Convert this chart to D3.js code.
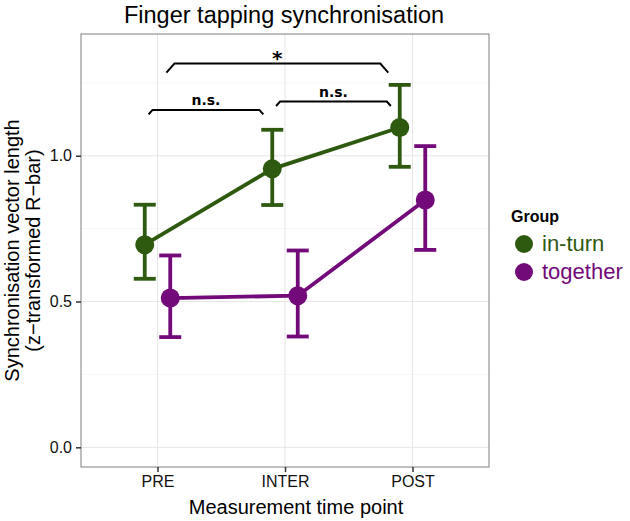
<!DOCTYPE html>
<html>
<head>
<meta charset="utf-8">
<script src="https://cdn.jsdelivr.net/npm/d3@7"></script>
<style>
  body { margin: 0; background: #fff; }
  text { font-family: "Liberation Sans", Arial, Helvetica, sans-serif; }
</style>
</head>
<body>
<div class="chart-container"></div>
<script>
var timepoints = ["PRE", "INTER", "POST"];
var groups = ["in-turn", "together"];
var groupColors = ["#2e5a10", "#720a7a"];

// means and error-bar limits, one entry per time point
var inTurnMean = [0.695, 0.955, 1.097];
var inTurnLow  = [0.578, 0.831, 0.962];
var inTurnHigh = [0.832, 1.089, 1.243];

var togetherMean = [0.512, 0.520, 0.848];
var togetherLow  = [0.378, 0.380, 0.677];
var togetherHigh = [0.658, 0.675, 1.033];

var yTicks = [0, 0.5, 1.0];
var yMinorTicks = [0.25, 0.75, 1.25];

// significance brackets: from/to position in category units, height, label
var bracketFrom  = [-0.07, 0.93, 0.07];
var bracketTo    = [0.83, 1.83, 1.81];
var bracketY     = [1.157, 1.186, 1.316];
var bracketLabel = ["n.s.", "n.s.", "*"];

draw();

function draw() {
    var container = d3.select('.chart-container');
    var drawWidth = 630, drawHeight = 521;

    var margin = { top: 34, right: 141, bottom: 54, left: 81 };
    var width = drawWidth - margin.left - margin.right;
    var height = drawHeight - margin.top - margin.bottom;

    var svg = container.append("svg")
        .attr("width", drawWidth)
        .attr("height", drawHeight);

    var g = svg.append("g")
        .attr("transform", "translate(" + margin.left + "," + margin.top + ")");

    var x = d3.scalePoint().domain(timepoints).range([0, width]).padding(0.6);
    var step = x.step();
    var y = d3.scaleLinear().domain([-0.0675, 1.4175]).range([height, 0]);
    var dodge = [-0.1 * step, 0.1 * step];

    // grid
    g.selectAll(".minor").data(yMinorTicks).enter().append("line")
        .attr("x1", 0).attr("x2", width)
        .attr("y1", d => y(d)).attr("y2", d => y(d))
        .attr("stroke", "#f4f4f4").attr("stroke-width", 0.8);
    g.selectAll(".major").data(yTicks).enter().append("line")
        .attr("x1", 0).attr("x2", width)
        .attr("y1", d => y(d)).attr("y2", d => y(d))
        .attr("stroke", "#e6e6e6").attr("stroke-width", 1);
    g.selectAll(".vgrid").data(timepoints).enter().append("line")
        .attr("x1", d => x(d)).attr("x2", d => x(d))
        .attr("y1", 0).attr("y2", height)
        .attr("stroke", "#e6e6e6").attr("stroke-width", 1);

    // series
    var series = [
        { name: groups[0], color: groupColors[0], mean: inTurnMean, low: inTurnLow, high: inTurnHigh, dx: dodge[0] },
        { name: groups[1], color: groupColors[1], mean: togetherMean, low: togetherLow, high: togetherHigh, dx: dodge[1] }
    ];

    var line = d3.line()
        .x(d => d.x)
        .y(d => y(d.v));

    series.forEach(function (s) {
        var pts = timepoints.map((t, i) => ({ x: x(t) + s.dx, v: s.mean[i], lo: s.low[i], hi: s.high[i] }));
        var sg = g.append("g");
        sg.append("path").datum(pts)
            .attr("d", line)
            .attr("fill", "none")
            .attr("stroke", s.color)
            .attr("stroke-width", 3.8);
        sg.selectAll(".eb").data(pts).enter().append("line")
            .attr("x1", d => d.x).attr("x2", d => d.x)
            .attr("y1", d => y(d.lo)).attr("y2", d => y(d.hi))
            .attr("stroke", s.color).attr("stroke-width", 3.8);
        sg.selectAll(".capHi").data(pts).enter().append("line")
            .attr("x1", d => d.x - 11).attr("x2", d => d.x + 11)
            .attr("y1", d => y(d.hi)).attr("y2", d => y(d.hi))
            .attr("stroke", s.color).attr("stroke-width", 3.8);
        sg.selectAll(".capLo").data(pts).enter().append("line")
            .attr("x1", d => d.x - 11).attr("x2", d => d.x + 11)
            .attr("y1", d => y(d.lo)).attr("y2", d => y(d.lo))
            .attr("stroke", s.color).attr("stroke-width", 3.8);
        sg.selectAll("circle").data(pts).enter().append("circle")
            .attr("cx", d => d.x).attr("cy", d => y(d.v))
            .attr("r", 9.5)
            .attr("fill", s.color);
    });

    // significance brackets
    var xc = function (u) { return x(timepoints[0]) + u * step; };
    bracketLabel.forEach(function (lab, i) {
        var big = lab === "*";
        var x0 = xc(bracketFrom[i]), x1 = xc(bracketTo[i]), yy = y(bracketY[i]);
        var bg = g.append("g");
        bg.append("path")
            .attr("d", "M" + x0 + "," + (yy + (big ? 9 : 4.5)) +
                "L" + (x0 + (big ? 8 : 4)) + "," + yy +
                "L" + (x1 - (big ? 8 : 4)) + "," + yy +
                "L" + x1 + "," + (yy + (big ? 9 : 4.5)))
            .attr("fill", "none").attr("stroke", "#000").attr("stroke-width", 2);
        bg.append("text")
            .attr("x", (x0 + x1) / 2)
            .attr("y", yy - (big ? -1 : 5))
            .attr("text-anchor", "middle")
            .attr("font-weight", "bold")
            .attr("font-size", big ? 20 : 14)
            .style("font-family", "'DejaVu Sans', sans-serif")
            .text(lab);
    });

    // panel border
    g.append("rect")
        .attr("width", width).attr("height", height)
        .attr("fill", "none").attr("stroke", "#7f7f7f").attr("stroke-width", 1);

    // axes
    var xAxis = g.append("g")
        .attr("transform", "translate(0," + height + ")")
        .call(d3.axisBottom(x).tickSize(5).tickPadding(4));
    var yAxis = g.append("g")
        .call(d3.axisLeft(y).tickValues(yTicks).tickFormat(d3.format(".1f")).tickSize(5).tickPadding(4));
    [xAxis, yAxis].forEach(function (a) {
        a.select(".domain").remove();
        a.selectAll(".tick line").attr("stroke", "#333").attr("stroke-width", 1.5);
        a.selectAll(".tick text").attr("fill", "#111").attr("font-size", 16)
            .style("font-family", "'Liberation Sans', Arial, sans-serif");
    });

    // titles
    svg.append("text")
        .attr("x", margin.left + width / 2 - 1).attr("y", 23)
        .attr("text-anchor", "middle").attr("font-size", 23.5)
        .text("Finger tapping synchronisation");
    svg.append("text")
        .attr("x", margin.left + width / 2 + 11).attr("y", 514)
        .attr("text-anchor", "middle").attr("font-size", 20)
        .text("Measurement time point");
    var yl = svg.append("text")
        .attr("transform", "translate(0," + (margin.top + height / 2) + ") rotate(-90)")
        .attr("text-anchor", "middle").attr("font-size", 20);
    yl.append("tspan").attr("x", 0).attr("y", 19).text("Synchronisation vector length");
    yl.append("tspan").attr("x", 0).attr("y", 40).text("(z\u2212transformed R\u2212bar)");

    // legend
    var lg = svg.append("g").attr("transform", "translate(511,0)");
    lg.append("text").attr("x", 0).attr("y", 222)
        .attr("font-size", 16).attr("font-weight", "bold").text("Group");
    groups.forEach(function (name, i) {
        lg.append("circle").attr("cx", 13).attr("cy", 244 + i * 28).attr("r", 9)
            .attr("fill", groupColors[i]);
        lg.append("text").attr("x", 31).attr("y", 251 + i * 28)
            .attr("font-size", 22).attr("fill", groupColors[i]).text(name);
    });
}
</script>
</body>
</html>
